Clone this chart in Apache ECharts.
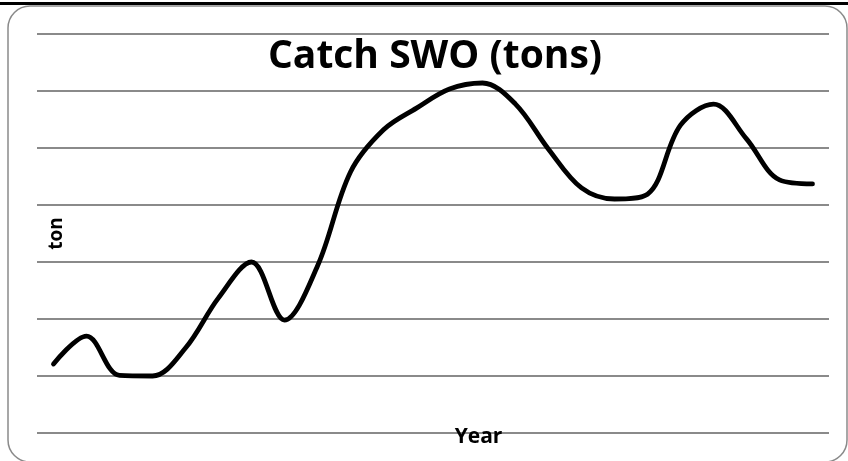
<!DOCTYPE html>
<html>
<head>
<meta charset="utf-8">
<script src="https://cdn.jsdelivr.net/npm/echarts@6/dist/echarts.min.js"></script>
<style>
  html, body { margin: 0; padding: 0; background: #fff; }
  #chart { width: 848px; height: 461px; }
</style>
</head>
<body>
<div id="chart"></div>
<script>
// Annual swordfish (SWO) catch, tons
const years = [1990, 1991, 1992, 1993, 1994, 1995, 1996, 1997, 1998, 1999, 2000, 2001,
               2002, 2003, 2004, 2005, 2006, 2007, 2008, 2009, 2010, 2011, 2012, 2013];
const catchTons = [1210, 1700, 1010, 1000, 1490, 2370, 3000, 1980, 2930, 4580, 5320, 5700,
                   6035, 6140, 5770, 4980, 4300, 4105, 4190, 5400, 5770, 5160, 4440, 4370];
const yTicks = { min: 0, max: 7000, step: 1000 };

const chart = echarts.init(document.getElementById('chart'), null, { renderer: 'canvas' });

const font = "'Open Sans', 'DejaVu Sans', sans-serif";

chart.setOption({
  animation: false,
  backgroundColor: '#ffffff',
  title: {
    text: 'Catch SWO (tons)',
    left: 435,
    top: 37,
    padding: 0,
    textAlign: 'center',
    textStyle: { fontFamily: font, fontWeight: 'bold', fontSize: 39, color: '#000' }
  },
  graphic: [
    {
      type: 'rect',
      z: 100,
      shape: { x: 0, y: 2, width: 848, height: 3 },
      style: { fill: '#000' }
    },
    {
      type: 'rect',
      z: -1,
      shape: { x: 8, y: 6, width: 839, height: 456, r: 22 },
      style: { fill: 'none', stroke: '#8a8a8a', lineWidth: 1.5 }
    }
  ],
  grid: { left: 37, right: 19, top: 34, bottom: 28 },
  xAxis: {
    type: 'category',
    data: years,
    boundaryGap: true,
    axisLine: { show: false },
    axisTick: { show: false },
    axisLabel: { show: false },
    name: 'Year',
    nameLocation: 'middle',
    nameGap: -6,
    nameTextStyle: {
      fontFamily: font, fontWeight: 'bold', fontSize: 21, color: '#000',
      padding: [0, 0, 0, 91]
    }
  },
  yAxis: {
    type: 'value',
    min: yTicks.min,
    max: yTicks.max,
    interval: yTicks.step,
    axisLine: { show: false },
    axisTick: { show: false },
    axisLabel: { show: false },
    splitLine: { lineStyle: { color: '#8a8a8a', width: 2 } },
    name: 'ton',
    nameLocation: 'middle',
    nameRotate: 90,
    nameGap: -29,
    nameTextStyle: { fontFamily: font, fontWeight: 'bold', fontSize: 19, color: '#000' }
  },
  series: [{
    type: 'line',
    data: catchTons,
    smooth: 0.35,
    symbol: 'none',
    lineStyle: { color: '#000', width: 4.8, cap: 'round', join: 'round' }
  }]
});
</script>
</body>
</html>
